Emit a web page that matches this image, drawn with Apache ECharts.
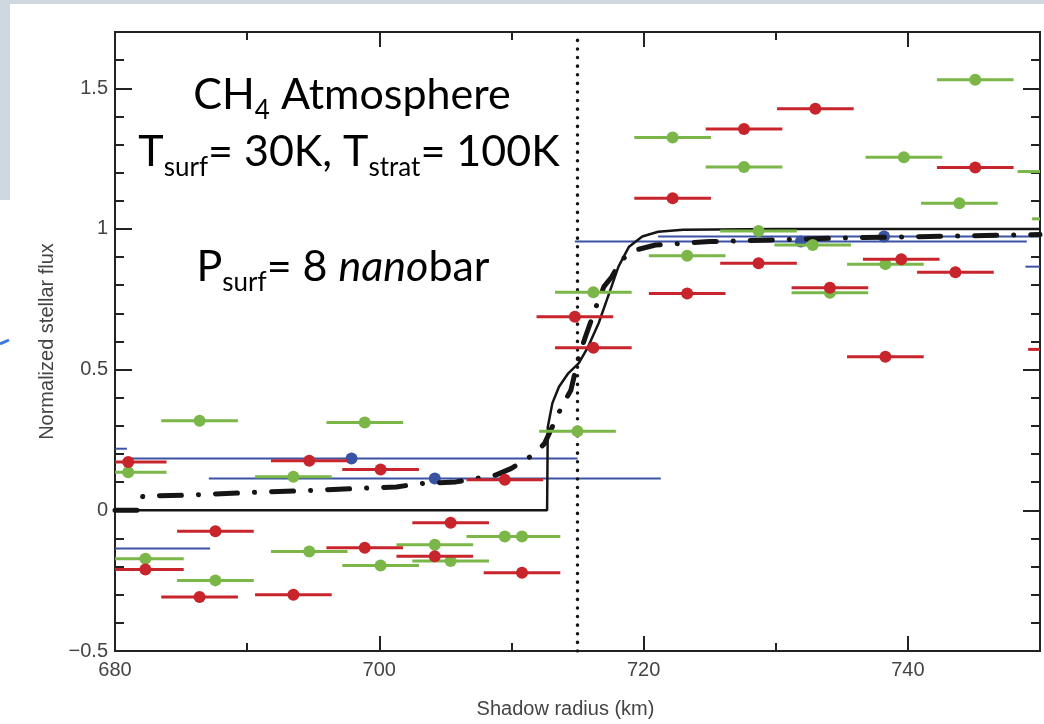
<!DOCTYPE html>
<html>
<head>
<meta charset="utf-8">
<script src="https://cdn.jsdelivr.net/npm/echarts@6/dist/echarts.min.js"></script>
<style>
html,body{margin:0;padding:0;background:#fff;}
#chart{width:1044px;height:724px;}
</style>
</head>
<body>
<div id="chart"></div>
<script>
// ---------- data ----------
const X_MIN = 680, X_MAX = 750;
const Y_MIN = -0.5, Y_MAX = 1.7;
const X_TICK_LABELS = [680, 700, 720, 740];
const Y_TICK_LABELS = [-0.5, 0, 0.5, 1, 1.5];

// error-bar half widths (km)
const RED_GREEN_ERR = 2.9;
const BLUE_ERR = 17.1;

const redX = [681.0, 694.7, 700.1, 709.5, 687.6, 682.3, 686.4, 693.5, 698.9, 705.4, 704.2, 710.8,
              714.8, 716.2, 722.2, 727.6, 733.0, 745.1, 723.3, 728.7, 734.1, 739.5, 743.6, 738.3, 752.0];
const redY = [0.172, 0.176, 0.145, 0.109, -0.074, -0.210, -0.308, -0.300, -0.133, -0.044, -0.163, -0.222,
              0.688, 0.578, 1.109, 1.355, 1.427, 1.218, 0.771, 0.878, 0.791, 0.892, 0.846, 0.546, 0.572];

const greenX = [681.0, 686.4, 698.9, 693.5, 682.3, 687.6, 694.7, 700.1, 704.2, 705.4, 709.5, 710.8,
                715.0, 716.2, 722.2, 727.6, 745.1, 739.7, 743.9, 723.3, 728.7, 732.8, 734.1, 738.3, 751.2, 752.3];
const greenY = [0.135, 0.318, 0.312, 0.119, -0.172, -0.249, -0.146, -0.196, -0.122, -0.180, -0.093, -0.093,
                0.281, 0.775, 1.325, 1.220, 1.530, 1.255, 1.091, 0.905, 0.993, 0.943, 0.773, 0.875, 1.204, 1.036];

const blueX = [697.9, 704.2, 663.8, 670.1, 731.9, 738.2, 766.0];
const blueY = [0.184, 0.113, 0.219, -0.136, 0.955, 0.973, 0.866];

// model curves
const solidX = [680, 712.7, 712.75, 713.1, 713.6, 714.3, 715.1, 715.8, 716.6, 717.4, 718.1, 718.9, 719.9, 721.1, 723, 730, 750];
const solidY = [0, 0, 0.296, 0.381, 0.439, 0.487, 0.523, 0.581, 0.665, 0.772, 0.866, 0.937, 0.973, 0.990, 0.997, 1.0, 1.0];

const dashX = [680, 681.9, 682.1, 686, 690, 695, 699, 701.3, 703, 705.8, 708.8, 710, 711.6, 712.5, 713.8, 714.5, 715.1, 715.6, 716.4, 717.0, 717.6, 718.3, 719.4, 720.9, 725, 735, 750];
const dashY = [0, 0, 0.05, 0.055, 0.063, 0.071, 0.079, 0.083, 0.095, 0.101, 0.125, 0.149, 0.196, 0.237, 0.368, 0.427, 0.546, 0.617, 0.723, 0.795, 0.83, 0.89, 0.925, 0.943, 0.955, 0.968, 0.98];

const VLINE_X = 715.0;

// ---------- helpers ----------
const zip = (xs, ys) => xs.map((x, i) => [x, ys[i]]);
const RED = '#c8242b', GREEN = '#7ab648', BLUE = '#3b53a3', INK = '#151515';

function errRenderer(color, halfW, lineW, r) {
  return function (params, api) {
    const x = api.value(0), y = api.value(1);
    const lo = Math.max(x - halfW, X_MIN), hi = Math.min(x + halfW, X_MAX);
    if (lo >= hi) return null;
    const p0 = api.coord([lo, y]), p1 = api.coord([hi, y]), c = api.coord([x, y]);
    const children = [{
      type: 'line',
      shape: { x1: p0[0], y1: p0[1], x2: p1[0], y2: p1[1] },
      style: { stroke: color, lineWidth: lineW }
    }];
    if (x >= X_MIN && x <= X_MAX) {
      children.push({ type: 'circle', shape: { cx: c[0], cy: c[1], r: r }, style: { fill: color } });
    }
    return { type: 'group', children: children };
  };
}

const labelFont = { fontFamily: 'Liberation Sans', fontSize: 20, color: '#444' };
const tickStyle = { color: '#222', width: 2 };

function xAxisDef(pos, interval, len, withLabels) {
  return {
    type: 'value', min: X_MIN, max: X_MAX, interval: interval, position: pos,
    axisLine: { show: false, onZero: false },
    axisTick: { show: true, inside: true, length: len, lineStyle: tickStyle },
    axisLabel: withLabels ? Object.assign({
      show: true, margin: 9,
      formatter: v => X_TICK_LABELS.some(t => Math.abs(t - v) < 1e-6) ? String(v) : ''
    }, labelFont) : { show: false },
    splitLine: { show: false }
  };
}
function yAxisDef(pos, interval, len, withLabels) {
  return {
    type: 'value', min: Y_MIN, max: Y_MAX, interval: interval, position: pos,
    axisLine: { show: false, onZero: false },
    axisTick: { show: true, inside: true, length: len, lineStyle: tickStyle },
    axisLabel: withLabels ? Object.assign({
      show: true, margin: 7,
      formatter: v => {
        const t = Y_TICK_LABELS.find(t => Math.abs(t - v) < 1e-6);
        if (t === undefined) return '';
        return t < 0 ? '\u2212' + String(-t) : String(t);
      }
    }, labelFont) : { show: false },
    splitLine: { show: false }
  };
}

const xMain = xAxisDef('bottom', 20, 15, true);
xMain.name = 'Shadow radius (km)';
xMain.nameLocation = 'middle';
xMain.nameGap = 48;
xMain.nameTextStyle = { fontFamily: 'Liberation Sans', fontSize: 20, color: '#444', padding: [0, 24, 0, 0] };

const yMain = yAxisDef('left', 0.5, 17, true);
yMain.name = 'Normalized stellar flux';
yMain.nameLocation = 'middle';
yMain.nameGap = 58;
yMain.nameTextStyle = { fontFamily: 'Liberation Sans', fontSize: 20, color: '#444' };

const chart = echarts.init(document.getElementById('chart'), null, { renderer: 'canvas' });

const mainFont = 'Lato';
const rich = {
  m: { fontFamily: mainFont, fontSize: 43, fill: '#000', color: '#000', verticalAlign: 'top' },
  s: { fontFamily: mainFont, fontSize: 26, fill: '#000', color: '#000', verticalAlign: 'top', padding: [24, 0, 0, 0] },
  i: { fontFamily: mainFont, fontSize: 43, fontStyle: 'italic', fill: '#000', color: '#000', verticalAlign: 'top' }
};

chart.setOption({
  animation: false,
  backgroundColor: '#fff',
  grid: { left: 115, right: 4, top: 32, bottom: 73, show: true, borderColor: '#222', borderWidth: 2, backgroundColor: 'transparent' },
  xAxis: [
    xMain,
    xAxisDef('bottom', 10, 8, false),
    xAxisDef('top', 20, 15, false),
    xAxisDef('top', 10, 8, false)
  ],
  yAxis: [
    yMain,
    yAxisDef('left', 0.1, 9, false),
    yAxisDef('right', 0.5, 17, false),
    yAxisDef('right', 0.1, 9, false)
  ],
  graphic: [
    { type: 'rect', shape: { x: 0, y: 0, width: 1044, height: 4 }, style: { fill: '#cfd8de' }, z: 100 },
    { type: 'rect', shape: { x: 0, y: 0, width: 10, height: 200 }, style: { fill: '#cfd8de' }, z: 100 },
    { type: 'line', shape: { x1: 0, y1: 344, x2: 9, y2: 340 }, style: { stroke: '#3a78e0', lineWidth: 3 }, z: 100 },
    { type: 'text', z: 100, style: { text: '{m|CH}{s|4}{m| Atmosphere}', rich: rich, x: 352, y: 74, align: 'center', verticalAlign: 'top' } },
    { type: 'text', z: 100, style: { text: '{m|T}{s|surf}{m|= 30K, T}{s|strat}{m|= 100K}', rich: rich, x: 349, y: 131, align: 'center', verticalAlign: 'top' } },
    { type: 'text', z: 100, style: { text: '{m|P}{s|surf}{m|= 8 }{i|nano}{m|bar}', rich: rich, x: 343, y: 246, align: 'center', verticalAlign: 'top' } }
  ],
  series: [
    {
      type: 'custom', name: 'blue', data: zip(blueX, blueY), encode: { x: 0, y: 1 },
      renderItem: errRenderer(BLUE, BLUE_ERR, 2, 6), z: 2
    },
    {
      type: 'line', name: 'vline', data: [[VLINE_X, Y_MIN], [VLINE_X, Y_MAX]], showSymbol: false, symbol: 'none',
      lineStyle: { color: INK, width: 3.5, type: [0.1, 8.5], cap: 'round' }, z: 3
    },
    {
      type: 'line', name: 'model solid', data: zip(solidX, solidY), showSymbol: false, symbol: 'none',
      lineStyle: { color: INK, width: 2.5 }, z: 3
    },
    {
      type: 'line', name: 'model dashdot', data: zip(dashX, dashY), showSymbol: false, symbol: 'none',
      lineStyle: { color: INK, width: 5, type: [22, 17, 0.1, 17], cap: 'round' }, z: 3
    },
    {
      type: 'custom', name: 'green', data: zip(greenX, greenY), encode: { x: 0, y: 1 },
      renderItem: errRenderer(GREEN, RED_GREEN_ERR, 3, 6), z: 4
    },
    {
      type: 'custom', name: 'red', data: zip(redX, redY), encode: { x: 0, y: 1 },
      renderItem: errRenderer(RED, RED_GREEN_ERR, 3, 6), z: 5
    }
  ]
});
</script>
</body>
</html>
